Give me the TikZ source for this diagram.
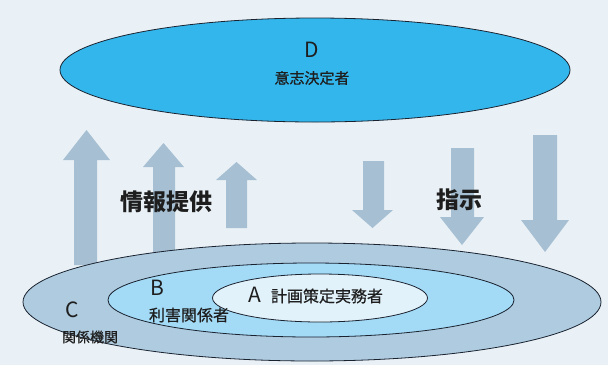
\documentclass[tikz,border=0pt]{standalone}
\usepackage{fontspec}
\setmainfont{Noto Sans CJK JP}
\newfontfamily\medjp[FakeBold=0.6]{Noto Sans CJK JP}
\usetikzlibrary{shapes.geometric}
\definecolor{bgc}{HTML}{E9F1F6}
\definecolor{dfill}{HTML}{33B6EC}
\definecolor{cfill}{HTML}{AECBDF}
\definecolor{bfill}{HTML}{A3DAF6}
\definecolor{afill}{HTML}{E2F2FA}
\definecolor{arw}{HTML}{A6BFD2}
\definecolor{txt}{HTML}{1E1E1E}
\definecolor{edge}{HTML}{1A2230}
\begin{document}
\begin{tikzpicture}[x=1pt,y=-1pt,
  oval/.style={ellipse, draw=edge, line width=0.8pt, inner sep=0pt},
  blockarrow/.style={fill=arw, draw=none},
  letter/.style={text=txt, font=\fontsize{21}{21}\selectfont, inner sep=0pt},
  role/.style={text=txt, font=\medjp\fontsize{15}{15}\selectfont, inner sep=0pt},
  flowlabel/.style={text=txt, font=\bfseries\fontsize{23}{23}\selectfont, inner sep=0pt}]
\useasboundingbox[fill=bgc] (0,0) rectangle (608,365);
% D ellipse
\node[oval, fill=dfill, minimum width=510pt, minimum height=104pt] (D) at (315,70) {};
\node[letter] (Dl) at (312,50) {D};
\node[role] (Dt) at (312,78) {意志決定者};
% up arrows
\path[blockarrow] (74,265) -- (74,160) -- (63,160) -- (86.5,130) -- (110,160) -- (97,160) -- (97,265) -- cycle;
\path[blockarrow] (153,252) -- (153,167) -- (143,167) -- (163.5,143) -- (184,167) -- (175,167) -- (175,252) -- cycle;
\path[blockarrow] (226,228) -- (226,180) -- (216,180) -- (236.5,162) -- (257,180) -- (247,180) -- (247,228) -- cycle;
% down arrows
\path[blockarrow] (363,161) -- (363,210) -- (352,210) -- (372.5,228) -- (393,210) -- (384,210) -- (384,161) -- cycle;
\path[blockarrow] (451,148) -- (451,217) -- (440,217) -- (462,245) -- (484,217) -- (474,217) -- (474,148) -- cycle;
\path[blockarrow] (533,135) -- (533,220) -- (521,220) -- (545,252) -- (569,220) -- (557,220) -- (557,135) -- cycle;
\node[flowlabel] (info) at (166,202) {情報提供};
\node[flowlabel] (instr) at (459,200) {指示};
% nested ellipses
\node[oval, fill=cfill, minimum width=578pt, minimum height=118pt] (C) at (312,302) {};
\node[oval, fill=bfill, minimum width=406pt, minimum height=74pt] (B) at (311,300) {};
\node[oval, fill=afill, minimum width=215pt, minimum height=48pt] (A) at (320,298) {};
\node[letter] (Cl) at (72,310) {C};
\node[role, font=\medjp\fontsize{14}{14}\selectfont] (Ct) at (90,337) {関係機関};
\node[letter] (Bl) at (157,288) {B};
\node[role, font=\medjp\fontsize{16}{16}\selectfont] (Bt) at (189,315) {利害関係者};
\node[letter] (Al) at (255,295) {A};
\node[role, font=\medjp\fontsize{16}{16}\selectfont] (At) at (327,296) {計画策定実務者};
\end{tikzpicture}
\end{document}
